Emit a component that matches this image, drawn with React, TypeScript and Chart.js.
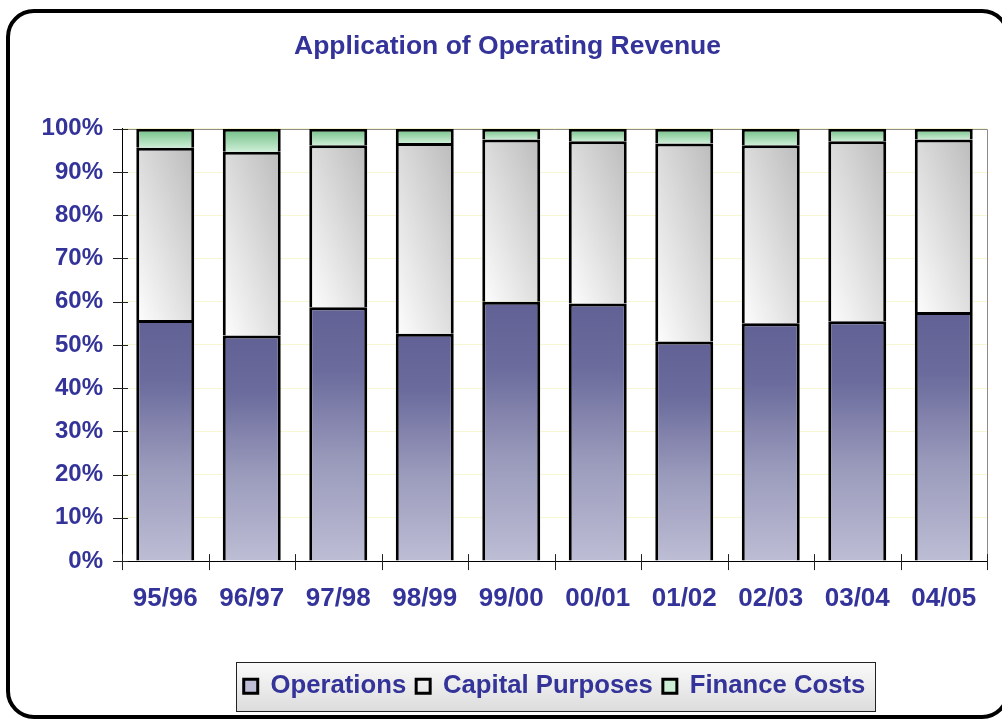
import React, { useEffect, useRef } from 'react';
import { Chart, registerables } from 'chart.js';

Chart.register(...registerables);

// ---------------- data ----------------
const categories = ['95/96', '96/97', '97/98', '98/99', '99/00', '00/01', '01/02', '02/03', '03/04', '04/05'];
const operations = [55.8, 52.2, 58.7, 52.6, 60.0, 59.6, 50.8, 55.0, 55.5, 57.6];
const capitalPurposes = [39.8, 42.5, 37.5, 44.1, 37.5, 37.5, 45.8, 41.2, 41.6, 39.9];
const financeCosts = [4.4, 5.3, 3.8, 3.3, 2.5, 2.9, 3.4, 3.8, 2.9, 2.5];
const seriesNames = ['Operations', 'Capital Purposes', 'Finance Costs'];
const titleText = 'Application of Operating Revenue';

// ---------------- style ----------------
const FONT = "'Liberation Sans', Arial, sans-serif";
const TEXT_COLOR = '#333399';
const BAR_PCT = 0.67;

function barBox(chart: any, i: number, bottomVal: number, topVal: number) {
  const xs = chart.scales.x;
  const ys = chart.scales.y;
  const cw = xs.getPixelForValue(1) - xs.getPixelForValue(0);
  const w = cw * BAR_PCT;
  const cx = xs.getPixelForValue(i);
  return {
    left: cx - w / 2,
    width: w,
    top: ys.getPixelForValue(topVal),
    bottom: ys.getPixelForValue(bottomVal),
  };
}

function ready(c: any) {
  return c.type === 'data' && c.chart.chartArea && c.chart.scales && c.chart.scales.x && c.chart.scales.y;
}

const opsFill = (c: any) => {
  if (!ready(c)) return '#7474a6';
  const i = c.dataIndex;
  const b = barBox(c.chart, i, 0, operations[i]);
  const g = c.chart.ctx.createLinearGradient(0, b.top, 0, b.bottom);
  g.addColorStop(0, '#616195');
  g.addColorStop(0.25, '#6b6b9d');
  g.addColorStop(0.6, '#9999bb');
  g.addColorStop(1, '#bdbdd5');
  return g;
};

let capTile: HTMLCanvasElement | null = null;
function getCapTile() {
  if (capTile) return capTile;
  const t = document.createElement('canvas');
  t.width = 100;
  t.height = 100;
  const tc = t.getContext('2d')!;
  const g = tc.createLinearGradient(0, 100, 100, 0);
  g.addColorStop(0, '#ffffff');
  g.addColorStop(1, '#bababa');
  tc.fillStyle = g;
  tc.fillRect(0, 0, 100, 100);
  capTile = t;
  return t;
}

const capFill = (c: any) => {
  if (!ready(c)) return '#dedede';
  const i = c.dataIndex;
  const b = barBox(c.chart, i, operations[i], operations[i] + capitalPurposes[i]);
  const h = b.bottom - b.top;
  const pat = c.chart.ctx.createPattern(getCapTile(), 'no-repeat');
  if (!pat) return '#e2e2e2';
  pat.setTransform(new DOMMatrix().translate(b.left - 2, b.top - 2).scale((b.width + 4) / 100, (h + 4) / 100));
  return pat;
};

const finFill = (c: any) => {
  if (!ready(c)) return '#8ccc9e';
  const i = c.dataIndex;
  const b = barBox(c.chart, i, operations[i] + capitalPurposes[i], 100);
  const g = c.chart.ctx.createLinearGradient(0, b.top, 0, b.bottom);
  g.addColorStop(0, '#6fbe84');
  g.addColorStop(1, '#cdeed6');
  return g;
};

const decorPlugin = {
  id: 'decor',
  beforeDraw(chart: any) {
    const ctx = chart.ctx;
    ctx.save();
    ctx.fillStyle = '#ffffff';
    ctx.fillRect(0, 0, chart.width, chart.height);
    // outer rounded frame
    ctx.lineWidth = 4;
    ctx.strokeStyle = '#000000';
    ctx.beginPath();
    ctx.roundRect(8, 11, 1000, 706, 26);
    ctx.stroke();
    // legend frame
    const lg = chart.legend;
    if (lg && lg.legendHitBoxes && lg.legendHitBoxes.length) {
      const hb = lg.legendHitBoxes;
      const left = Math.round(hb[0].left - 8) + 0.5;
      const last = hb[hb.length - 1];
      const right = Math.round(last.left + last.width + 10) + 0.5;
      const top = Math.round(hb[0].top - 11) + 0.5;
      const bottom = Math.round(hb[0].top + hb[0].height + 12) + 0.5;
      const g = ctx.createLinearGradient(0, top, 0, bottom);
      g.addColorStop(0, '#fafafa');
      g.addColorStop(1, '#dcdcdc');
      ctx.fillStyle = g;
      ctx.fillRect(left, top, right - left, bottom - top);
      ctx.lineWidth = 1;
      ctx.strokeStyle = '#222222';
      ctx.strokeRect(left, top, right - left, bottom - top);
    }
    ctx.restore();
  },
  beforeDatasetsDraw(chart: any) {
    const { ctx, chartArea: a } = chart;
    ctx.save();
    ctx.lineWidth = 1;
    ctx.strokeStyle = '#8c8c8c';
    ctx.beginPath();
    ctx.moveTo(a.left, Math.round(a.top) + 0.5);
    ctx.lineTo(Math.round(a.right) + 0.5, Math.round(a.top) + 0.5);
    ctx.lineTo(Math.round(a.right) + 0.5, a.bottom);
    ctx.stroke();
    ctx.restore();
  },
  afterDraw(chart: any) {
    const { ctx, chartArea: a } = chart;
    const xs = chart.scales.x;
    const ys = chart.scales.y;
    ctx.save();
    ctx.lineWidth = 1;
    ctx.strokeStyle = '#222222';
    ctx.beginPath();
    ys.ticks.forEach((_t: any, i: number) => {
      const y = Math.round(ys.getPixelForTick(i)) + 0.5;
      ctx.moveTo(a.left - 9, y);
      ctx.lineTo(a.left + 6, y);
    });
    const cw = xs.getPixelForValue(1) - xs.getPixelForValue(0);
    for (let i = 0; i <= categories.length; i++) {
      const x = Math.round(xs.getPixelForValue(0) - cw / 2 + i * cw) + 0.5;
      ctx.moveTo(x, a.bottom - 7);
      ctx.lineTo(x, a.bottom + 9);
    }
    ctx.stroke();
    ctx.restore();
  },
};

export default function App() {
  const ref = useRef<HTMLCanvasElement | null>(null);

  useEffect(() => {
    if (!ref.current) return;
    const chart = new Chart(ref.current, {
      type: 'bar',
      data: {
        labels: categories,
        datasets: [
          {
            label: seriesNames[0],
            data: operations,
            backgroundColor: opsFill as any,
            borderColor: '#000000',
            borderWidth: 3,
          },
          {
            label: seriesNames[1],
            data: capitalPurposes,
            backgroundColor: capFill as any,
            borderColor: '#000000',
            borderWidth: 3,
          },
          {
            label: seriesNames[2],
            data: financeCosts,
            backgroundColor: finFill as any,
            borderColor: '#000000',
            borderWidth: 3,
          },
        ],
      },
      options: {
        responsive: false,
        animation: false,
        devicePixelRatio: 1,
        events: [],
        datasets: {
          bar: {
            barPercentage: BAR_PCT,
            categoryPercentage: 1,
          },
        },
        layout: { padding: { top: 15, left: 28, right: 15, bottom: 11 } },
        scales: {
          x: {
            stacked: true,
            grid: { drawOnChartArea: false, drawTicks: false },
            border: { display: true, color: '#000000', width: 1 },
            ticks: {
              color: TEXT_COLOR,
              font: { family: FONT, size: 26, weight: 'bold' },
              padding: 22,
              maxRotation: 0,
              autoSkip: false,
            },
            afterFit: (scale: any) => {
              scale.height += 27;
            },
          },
          y: {
            stacked: true,
            min: 0,
            max: 100,
            grid: { color: '#f7f7d4', drawTicks: false, lineWidth: 1 },
            border: { display: true, color: '#000000', width: 1 },
            ticks: {
              stepSize: 10,
              color: TEXT_COLOR,
              font: { family: FONT, size: 24, weight: 'bold' },
              padding: 19,
              callback: (v: any) => `${v}%`,
            },
            afterFit: (scale: any) => {
              scale.width = 94;
            },
          },
        },
        plugins: {
          title: {
            display: true,
            text: titleText,
            color: TEXT_COLOR,
            font: { family: FONT, size: 26.5, weight: 'bold' },
            padding: { top: 16, bottom: 66 },
          },
          legend: {
            display: true,
            position: 'bottom',
            fullSize: false,
            labels: {
              boxWidth: 14,
              boxHeight: 14,
              padding: 10,
              color: TEXT_COLOR,
              font: { family: FONT, size: 25.7, weight: 'bold' },
            },
          },
          tooltip: { enabled: false },
        },
      },
      plugins: [decorPlugin],
    });
    return () => chart.destroy();
  }, []);

  return (
    <div style={{ position: 'fixed', left: 0, top: 0, width: 1002, height: 720, background: '#fff' }}>
      <canvas ref={ref} width={1002} height={720} style={{ display: 'block', width: 1002, height: 720 }} />
    </div>
  );
}
